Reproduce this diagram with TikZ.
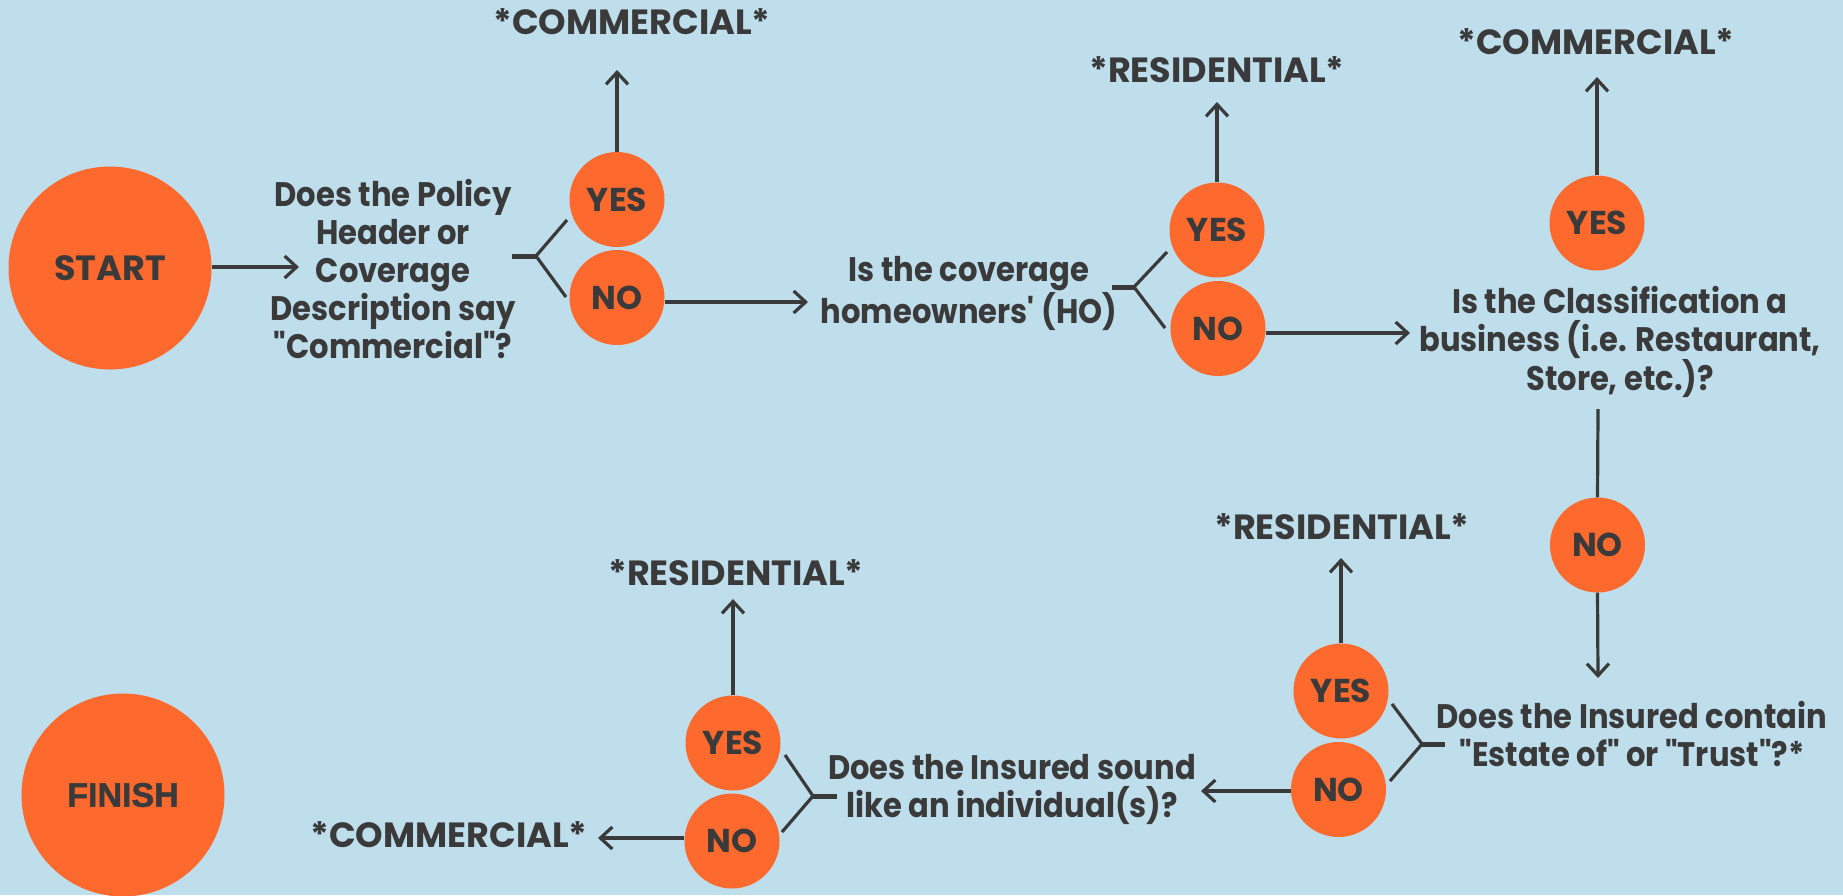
\documentclass[tikz,border=0pt]{standalone}
\usepackage{fontspec}
\setmainfont{Poppins}
\newfontfamily\qfont[FakeStretch=0.9]{Poppins}
\newfontfamily\lfont{Poppins}
\newfontfamily\arialb[BoldFeatures={FakeBold=1.5}]{Liberation Sans}
\usetikzlibrary{arrows.meta}
\definecolor{bg}{HTML}{BEDEEC}
\definecolor{org}{HTML}{FE692E}
\definecolor{ink}{HTML}{3A3A3A}
\begin{document}
\begin{tikzpicture}[x=1pt,y=-1pt,
  yn/.style={circle, fill=org, minimum size=95pt, inner sep=0pt, text=ink, font=\lfont\bfseries\fontsize{33}{38}\selectfont},
  big/.style={circle, fill=org, minimum size=203pt, inner sep=0pt, text=ink},
  q/.style={text=ink, align=center, font=\qfont\bfseries\fontsize{34}{38}\selectfont, inner sep=0pt},
  lab/.style={text=ink, font=\lfont\bfseries\fontsize{35}{38}\selectfont, inner sep=0pt},
  conn/.style={draw=ink, line width=3.2pt},
  arr/.style={conn, -{Straight Barb[length=12pt,width=22pt]}},
  stub/.style={draw=ink, line width=5pt},
]
\fill[bg] (0,0) rectangle (1843,895);
\useasboundingbox (0,0) rectangle (1843,895);

% big circles
\node[big, font=\lfont\bfseries\fontsize{35}{38}\selectfont] (start) at (110,268) {START};
\node[big, font=\arialb\bfseries\fontsize{34}{38}\selectfont] (finish) at (123,795) {FINISH};

% questions
\node[q] (q1) at (393,269) {Does the Policy\\Header or\\Coverage\\Description say\\"Commercial"?};
\node[q] (q2) at (969,293.5) {Is the coverage\\homeowners\textquotesingle{} (HO)};
\node[q] (q3) at (1620,342) {Is the Classification a\\business (i.e. Restaurant,\\Store, etc.)?};
\node[q] (q4) at (1632,734) {Does the Insured contain\\"Estate of" or "Trust"?*};
\node[q] (q5) at (1012,789) {Does the Insured sound\\like an individual(s)?};

% yes / no circles
\node[yn] (y1) at (617,199.5) {YES};
\node[yn] (n1) at (617,297.5) {NO};
\node[yn] (y2) at (1217,230) {YES};
\node[yn] (n2) at (1218,328.5) {NO};
\node[yn] (y3) at (1597,223) {YES};
\node[yn] (n3) at (1597.5,545) {NO};
\node[yn] (y4) at (1341,691) {YES};
\node[yn] (n4) at (1338.5,789.5) {NO};
\node[yn] (y5) at (733,743) {YES};
\node[yn] (n5) at (732,841) {NO};

% outcome labels
\node[lab] (l1) at (632,22) {*COMMERCIAL*};
\node[lab] (l2) at (1217,70) {*RESIDENTIAL*};
\node[lab] (l3) at (1596,42) {*COMMERCIAL*};
\node[lab] (l4) at (1342,527) {*RESIDENTIAL*};
\node[lab] (l5) at (736,573) {*RESIDENTIAL*};
\node[lab] (l6) at (449,835) {*COMMERCIAL*};

% arrow end coordinates
\coordinate (s1) at (299,267);
\coordinate (t1) at (617,70);
\coordinate (t2) at (1217,102);
\coordinate (t3) at (1597,77);
\coordinate (t4) at (1341,558);
\coordinate (t5) at (733,599);
\coordinate (a1) at (808,302);
\coordinate (a2) at (1410,333);
\coordinate (a3) at (1598,678);
\coordinate (a4) at (1201,791);
\coordinate (a6) at (598,838);
\coordinate (q3b) at (1598,409);

% arrows
\draw[arr] (start.east |- s1) -- (s1);
\draw[arr] (y1.north) -- (t1);
\draw[arr] (y2.north) -- (t2);
\draw[arr] (y3.north) -- (t3);
\draw[arr] (y4.north) -- (t4);
\draw[arr] (y5.north) -- (t5);
\draw[arr] (n1.east |- a1) -- (a1);
\draw[arr] (n2.east |- a2) -- (a2);
\draw[conn] (q3b) -- (n3.north);
\draw[arr] (n3.south) -- (a3);
\draw[arr] (n4.west |- a4) -- (a4);
\draw[arr] (n5.west |- a6) -- (a6);

% forks
\coordinate (f1a) at (512,256); \coordinate (f1) at (536,256);
\coordinate (f1y) at (567,220); \coordinate (f1n) at (566,297);
\draw[stub] (f1a) -- (f1);
\draw[conn] (f1y) -- (f1) -- (f1n);

\coordinate (f2a) at (1112,287); \coordinate (f2) at (1134,287);
\coordinate (f2y) at (1167,252); \coordinate (f2n) at (1165,328);
\draw[stub] (f2a) -- (f2);
\draw[conn] (f2y) -- (f2) -- (f2n);

\coordinate (f4a) at (1445,744); \coordinate (f4) at (1422,744);
\coordinate (f4y) at (1392,704); \coordinate (f4n) at (1390,781);
\draw[stub] (f4a) -- (f4);
\draw[conn] (f4y) -- (f4) -- (f4n);

\coordinate (f5a) at (837,796); \coordinate (f5) at (813,796);
\coordinate (f5y) at (785,755); \coordinate (f5n) at (782,832);
\draw[stub] (f5a) -- (f5);
\draw[conn] (f5y) -- (f5) -- (f5n);
\end{tikzpicture}
\end{document}
